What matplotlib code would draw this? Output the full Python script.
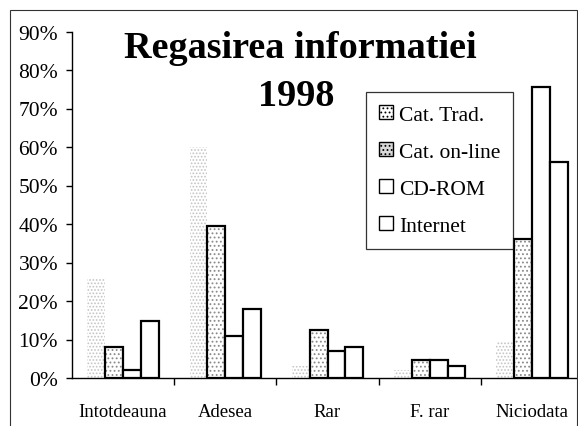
import matplotlib.pyplot as plt
import numpy as np

categories = ['Intotdeauna', 'Adesea', 'Rar', 'F. rar', 'Niciodata']
series = ['Cat. Trad.', 'Cat. on-line', 'CD-ROM', 'Internet']
cat_trad = [26, 60, 3, 2, 9.5]
cat_online = [8, 39.5, 12.5, 4.7, 36]
cd_rom = [2, 11, 7, 4.7, 75.5]
internet = [14.7, 17.8, 8, 3.2, 56]
yticks = [0, 10, 20, 30, 40, 50, 60, 70, 80, 90]

plt.rcParams['font.family'] = ['Liberation Serif', 'DejaVu Serif']
plt.rcParams['hatch.linewidth'] = 0.8

fig = plt.figure(figsize=(5.78, 4.27), dpi=100)
ax = fig.add_axes([72 / 578, 48 / 427, 511 / 578, 346.5 / 427])

x = np.arange(len(categories)) + 0.5
w = 0.175
faint = '#c4c4c4'
dots = '#8a8a8a'

# faint stippled bars, no outline
ax.bar(x - 1.5 * w, cat_trad, w, color='white', edgecolor=faint,
       hatch='.....', linewidth=0)
# stippled bars with outline
ax.bar(x - 0.5 * w, cat_online, w, color='white', edgecolor=dots,
       hatch='....', linewidth=0)
ax.bar(x - 0.5 * w, cat_online, w, fill=False, edgecolor='black', linewidth=1.6)
ax.bar(x + 0.5 * w, cd_rom, w, color='white', edgecolor='black', linewidth=1.6)
ax.bar(x + 1.5 * w, internet, w, color='white', edgecolor='black', linewidth=1.6)

ax.set_xlim(0, 5)
ax.set_ylim(0, 90)
ax.set_yticks(yticks)
ax.set_yticklabels([f'{v}%' for v in yticks], fontsize=15.5)
ax.set_xticks([1, 2, 3, 4])
ax.set_xticklabels([])
ax.set_xticks(x, categories, minor=True)
ax.tick_params(axis='x', which='minor', length=0, pad=18, labelsize=13.5)
ax.tick_params(axis='x', which='major', length=5, width=1, direction='out')
ax.tick_params(axis='y', length=4, width=1, direction='out', pad=6)
ax.spines['top'].set_visible(False)
ax.spines['right'].set_visible(False)
ax.spines['left'].set_linewidth(1)
ax.spines['bottom'].set_linewidth(1)

handles = [
    plt.Rectangle((0, 0), 1, 1, facecolor='white', edgecolor='black', hatch='....', linewidth=1),
    plt.Rectangle((0, 0), 1, 1, facecolor='#d8d8d8', edgecolor='black', hatch='....', linewidth=1),
    plt.Rectangle((0, 0), 1, 1, facecolor='white', edgecolor='black', linewidth=1),
    plt.Rectangle((0, 0), 1, 1, facecolor='white', edgecolor='black', linewidth=1),
]
leg = ax.legend(handles, series, loc='upper left', bbox_to_anchor=(0.575, 0.825),
                fontsize=15.5, frameon=True, fancybox=False, handlelength=0.65,
                handleheight=0.65, handletextpad=0.3, labelspacing=0.8,
                borderpad=0.6, borderaxespad=0)
leg.get_frame().set_edgecolor('black')
leg.get_frame().set_linewidth(0.9)

fig.text(300 / 578, 1 - 48 / 427, 'Regasirea informatiei', ha='center', va='center',
         fontsize=27.5, fontweight='bold')
fig.text(296 / 578, 1 - 97 / 427, '1998', ha='center', va='center',
         fontsize=27.5, fontweight='bold')

fig.add_artist(plt.Rectangle((10 / 578, -0.05), 567 / 578, 1.05 - 11 / 427,
                             transform=fig.transFigure, fill=False,
                             edgecolor='#333333', linewidth=0.8))

fig.savefig('out.png', dpi=100)
